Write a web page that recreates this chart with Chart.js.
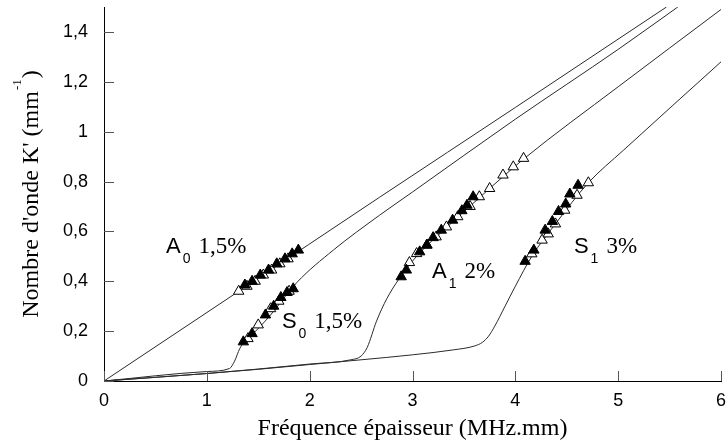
<!DOCTYPE html>
<html>
<head>
<meta charset="utf-8">
<script src="https://cdn.jsdelivr.net/npm/chart.js@4/dist/chart.umd.min.js"></script>
<style>
html,body{margin:0;padding:0;background:#fff;}
canvas{display:block;}
</style>
</head>
<body>
<canvas id="c" width="728" height="443"></canvas>
<script>
// ---- Axis ticks ----
const xTicks = [0, 1, 2, 3, 4, 5, 6];
const yTicks = [0, 0.2, 0.4, 0.6, 0.8, 1, 1.2, 1.4];

// ---- Dispersion curves ----
const curveA0X = [0, 1.3, 2.68, 4, 5.47];
const curveA0Y = [0, 0.357, 0.737, 1.097, 1.5];

const curveS0X = [0, 1, 1.22, 1.27, 1.32, 1.37, 1.45, 1.6, 1.875, 2.23, 2.68, 3, 4, 5, 5.58];
const curveS0Y = [0, 0.038, 0.05, 0.08, 0.13, 0.16, 0.19, 0.255, 0.395, 0.525, 0.665, 0.758, 1.05, 1.33, 1.5];

const curveA1X = [0, 1, 1.5, 2, 2.4, 2.5, 2.56, 2.65, 2.75, 2.87, 3.04, 3.33, 3.65, 4.08, 5, 6];
const curveA1Y = [0, 0.03, 0.048, 0.068, 0.085, 0.1, 0.135, 0.24, 0.33, 0.41, 0.5, 0.615, 0.735, 0.89, 1.18, 1.49];

const curveS1X = [0, 1, 1.5, 2, 2.5, 3, 3.4, 3.6, 3.68, 3.74, 3.8, 3.9, 4.0, 4.16, 4.39, 4.71, 5.05, 6];
const curveS1Y = [0, 0.03, 0.047, 0.066, 0.085, 0.105, 0.125, 0.14, 0.155, 0.18, 0.22, 0.3, 0.38, 0.5, 0.63, 0.795, 0.925, 1.28];

// ---- Measured points (open = white triangles, filled = black triangles) ----
const a0OpenX = [1.31, 1.39, 1.47, 1.55, 1.63, 1.71, 1.79];
const a0OpenY = [0.36, 0.38, 0.40, 0.425, 0.445, 0.47, 0.49];
const a0FillX = [1.37, 1.44, 1.52, 1.60, 1.68, 1.76, 1.83, 1.89];
const a0FillY = [0.385, 0.40, 0.425, 0.445, 0.47, 0.49, 0.51, 0.525];

const s0OpenX = [1.40, 1.50, 1.62, 1.70, 1.80];
const s0OpenY = [0.17, 0.225, 0.29, 0.32, 0.36];
const s0FillX = [1.355, 1.44, 1.57, 1.65, 1.72, 1.78, 1.84];
const s0FillY = [0.157, 0.19, 0.265, 0.30, 0.335, 0.355, 0.37];

const a1OpenX = [2.97, 3.04, 3.14, 3.23, 3.33, 3.44, 3.56, 3.65, 3.75, 3.88, 3.98, 4.08];
const a1OpenY = [0.475, 0.511, 0.545, 0.578, 0.618, 0.659, 0.70, 0.739, 0.772, 0.826, 0.859, 0.893];
const a1FillX = [2.89, 2.94, 3.07, 3.14, 3.20, 3.28, 3.39, 3.48, 3.53, 3.59];
const a1FillY = [0.418, 0.445, 0.518, 0.545, 0.575, 0.605, 0.645, 0.683, 0.705, 0.739];

const s1OpenX = [4.16, 4.26, 4.32, 4.39, 4.48, 4.60, 4.71];
const s1OpenY = [0.51, 0.565, 0.59, 0.63, 0.685, 0.745, 0.795];
const s1FillX = [4.095, 4.18, 4.29, 4.36, 4.42, 4.49, 4.53, 4.61];
const s1FillY = [0.48, 0.525, 0.605, 0.64, 0.68, 0.71, 0.75, 0.785];

// ---- Curve annotations ----
const labelMode = ['A', 'S', 'A', 'S'];
const labelIndex = ['0', '0', '1', '1'];
const labelPct = ['1,5%', '1,5%', '2%', '3%'];
const labelAtX = [0.603, 1.73, 3.19, 4.57];
const labelAtY = [0.513, 0.212, 0.413, 0.513];

const xTitle = 'Fréquence épaisseur (MHz.mm)';
const yTitleMain = "Nombre d'onde K' (mm";
const yTitleSup = '-1';
const yTitleEnd = ')';

const zip = (xs, ys) => xs.map((x, i) => ({x: x, y: ys[i]}));

function curve(xs, ys) {
  return {
    data: zip(xs, ys), showLine: true, pointRadius: 0, borderColor: '#2a2a2a',
    borderWidth: 1, cubicInterpolationMode: 'monotone', fill: false
  };
}
function marks(xs, ys, filled) {
  return {
    data: zip(xs, ys), showLine: false, pointStyle: 'triangle', pointRadius: 6,
    pointBackgroundColor: filled ? '#000' : '#fff', pointBorderColor: '#000', pointBorderWidth: 1
  };
}

const SANS = '"Liberation Sans", Arial, Helvetica, sans-serif';
const SERIF = '"Liberation Serif", "Times New Roman", Times, serif';

const decor = {
  id: 'decor',
  afterDraw(chart) {
    const ctx = chart.ctx, xs = chart.scales.x, ys = chart.scales.y, ca = chart.chartArea;
    ctx.save();
    // inward tick marks
    ctx.strokeStyle = '#555';
    ctx.lineWidth = 1;
    ctx.beginPath();
    yTicks.forEach(v => {
      const p = Math.round(ys.getPixelForValue(v)) + 0.5;
      ctx.moveTo(ca.left, p); ctx.lineTo(ca.left + 10, p);
    });
    xTicks.forEach(v => {
      const p = Math.round(xs.getPixelForValue(v)) + 0.5;
      ctx.moveTo(p, ca.bottom); ctx.lineTo(p, ca.bottom - 10);
    });
    ctx.stroke();

    // curve labels
    ctx.fillStyle = '#000';
    ctx.textBaseline = 'alphabetic';
    ctx.textAlign = 'left';
    for (let i = 0; i < labelMode.length; i++) {
      const px = xs.getPixelForValue(labelAtX[i]);
      const py = ys.getPixelForValue(labelAtY[i]);
      ctx.font = '22px ' + SANS;
      ctx.fillText(labelMode[i], px, py);
      const w1 = ctx.measureText(labelMode[i]).width;
      ctx.font = '14px ' + SANS;
      ctx.fillText(labelIndex[i], px + w1 + 2, py + 10);
      const w2 = ctx.measureText(labelIndex[i]).width;
      ctx.font = '23px ' + SERIF;
      ctx.fillText(labelPct[i], px + w1 + 2 + w2 + 8, py);
    }

    // x title
    ctx.font = '24px ' + SERIF;
    ctx.textAlign = 'center';
    ctx.fillText(xTitle, (ca.left + ca.right) / 2, 435);

    // y title (rotated)
    ctx.translate(38, (ca.top + ca.bottom) / 2);
    ctx.rotate(-Math.PI / 2);
    ctx.textAlign = 'left';
    ctx.font = '24px ' + SERIF;
    const wm = ctx.measureText(yTitleMain).width;
    ctx.font = '13px ' + SERIF;
    const ws = ctx.measureText(yTitleSup).width;
    ctx.font = '24px ' + SERIF;
    const we = ctx.measureText(yTitleEnd).width;
    const start = -(wm + ws + we + 2) / 2;
    ctx.fillText(yTitleMain, start, 0);
    ctx.font = '13px ' + SERIF;
    ctx.fillText(yTitleSup, start + wm + 1, -17);
    ctx.font = '24px ' + SERIF;
    ctx.fillText(yTitleEnd, start + wm + ws + 2, 0);
    ctx.restore();
  }
};

new Chart(document.getElementById('c'), {
  type: 'scatter',
  data: {
    datasets: [
      marks(a0FillX, a0FillY, true),
      marks(s0FillX, s0FillY, true),
      marks(a1FillX, a1FillY, true),
      marks(s1FillX, s1FillY, true),
      marks(a0OpenX, a0OpenY, false),
      marks(s0OpenX, s0OpenY, false),
      marks(a1OpenX, a1OpenY, false),
      marks(s1OpenX, s1OpenY, false),
      curve(curveA0X, curveA0Y),
      curve(curveS0X, curveS0Y),
      curve(curveA1X, curveA1Y),
      curve(curveS1X, curveS1Y)
    ]
  },
  options: {
    responsive: false,
    devicePixelRatio: 1,
    animation: false,
    events: [],
    layout: {padding: {left: 0, right: 7, top: 7, bottom: 0}},
    plugins: {legend: {display: false}, tooltip: {enabled: false}},
    scales: {
      x: {
        type: 'linear', min: 0, max: 6,
        afterBuildTicks: s => { s.ticks = xTicks.map(v => ({value: v})); },
        afterFit: s => { s.height = 62; s.paddingLeft = 0; s.paddingRight = 0; },
        grid: {display: false, drawTicks: false},
        border: {display: true, color: '#000', width: 1},
        ticks: {font: {family: SANS, size: 18}, color: '#000', padding: 9,
                callback: v => String(v)}
      },
      y: {
        type: 'linear', min: 0, max: 1.5,
        afterBuildTicks: s => { s.ticks = yTicks.map(v => ({value: v})); },
        afterFit: s => { s.width = 104; s.paddingTop = 0; s.paddingBottom = 0; },
        grid: {display: false, drawTicks: false},
        border: {display: true, color: '#000', width: 1},
        ticks: {font: {family: SANS, size: 18}, color: '#000', padding: 16,
                callback: v => String(Number(v.toFixed(1))).replace('.', ',')}
      }
    }
  },
  plugins: [decor]
});
</script>
</body>
</html>
